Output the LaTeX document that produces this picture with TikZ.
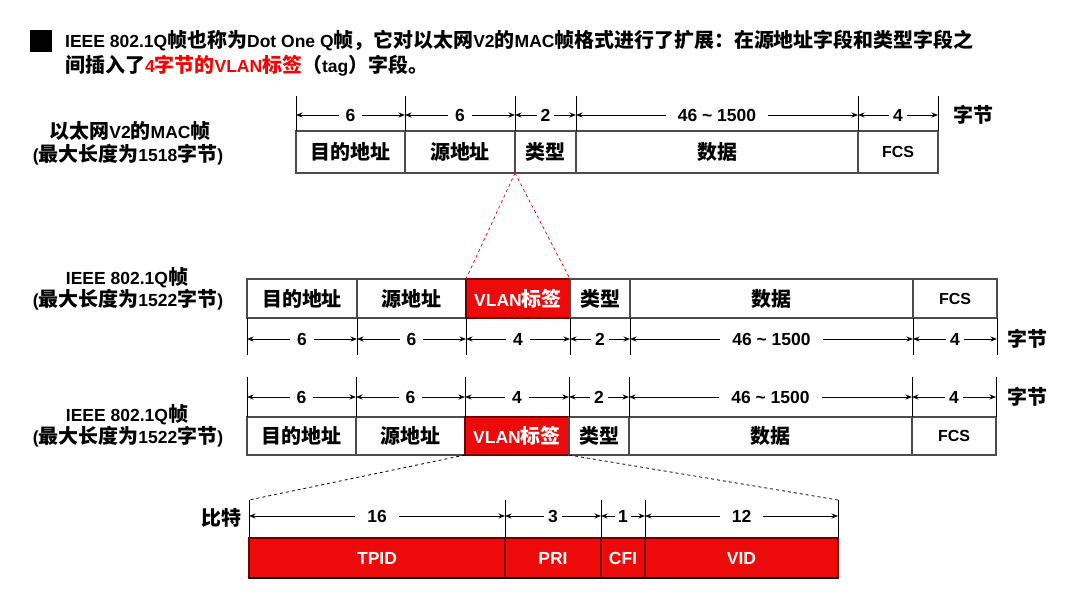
\documentclass[tikz,border=0pt]{standalone}
\usepackage{fontspec}
\setmainfont{Liberation Sans}
\newfontfamily\cjk{Noto Sans CJK SC}[Scale=1.14]
\usetikzlibrary{arrows.meta}
\newcommand\zh[1]{{\cjk #1}}
\newcommand\tld{{\char"7E}}
\definecolor{vred}{RGB}{236,10,10}
\definecolor{vdark}{RGB}{110,0,0}
\definecolor{tred}{RGB}{250,0,0}
\begin{document}
\begin{tikzpicture}[x=1pt,y=-1pt,
  font=\bfseries\fontsize{17.5}{20}\selectfont,
  cell/.style={draw=black!70, line width=1.3pt, inner sep=0pt, outer sep=0pt},
  redcell/.style={cell, fill=vred, draw=vdark, text=white},
  bitcell/.style={cell, fill=vred, draw=vdark, text=white, line width=1.1pt},
  tick/.style={line width=0.9pt},
  dim/.style={line width=0.9pt, {Stealth[length=6.5pt,width=5pt]}-{Stealth[length=6.5pt,width=5pt]}},
  lab/.style={fill=white, inner xsep=7pt, inner ysep=1pt},
  labn/.style={fill=white, inner xsep=4pt, inner ysep=1pt},
  side/.style={align=center, inner sep=0pt},
  fcs/.style={font=\bfseries\fontsize{16}{18}\selectfont}
]
\useasboundingbox (0,0) rectangle (1074,600);

% ---- title ----
\node[fill=black, minimum size=22pt, inner sep=0pt] (sq) at (41,41) {};
\node[anchor=west, inner sep=0pt] (t1) at (65,41)
  {IEEE 802.1Q\zh{帧也称为}Dot One Q\zh{帧，它对以太网}V2\zh{的}MAC\zh{帧格式进行了扩展：在源地址字段和类型字段之}};
\node[anchor=west, inner sep=0pt] (t2) at (65,66)
  {\zh{间插入了}\textcolor{tred}{4\zh{字节的}VLAN\zh{标签}}\zh{（}tag\zh{）字段。}};

% ---- frame 1: Ethernet V2 ----
\node[side] (l1a) at (130,131) {\zh{以太网}V2\zh{的}MAC\zh{帧}};
\node[side] (l1b) at (128,155) {(\zh{最大长度为}1518\zh{字节})};
\node[cell, minimum width=109pt, minimum height=42pt] (a1) at (350.5,152) {\zh{目的地址}};
\node[cell, minimum width=110pt, minimum height=42pt] (a2) at (460,152) {\zh{源地址}};
\node[cell, minimum width=61pt, minimum height=42pt] (a3) at (545.5,152) {\zh{类型}};
\node[cell, minimum width=282pt, minimum height=42pt] (a4) at (717,152) {\zh{数据}};
\node[cell, fcs, minimum width=80pt, minimum height=42pt] (a5) at (898,152) {FCS};
\foreach \n in {a1,a2,a3,a4,a5} \draw[tick] (\n.north west) -- ++(0,-35);
\draw[tick] (a5.north east) -- ++(0,-35);
\draw[dim] ([yshift=16pt]a1.north west) -- ([yshift=16pt]a1.north east) node[midway,lab] {6};
\draw[dim] ([yshift=16pt]a2.north west) -- ([yshift=16pt]a2.north east) node[midway,lab] {6};
\draw[dim] ([yshift=16pt]a3.north west) -- ([yshift=16pt]a3.north east) node[midway,labn] {2};
\draw[dim] ([yshift=16pt]a4.north west) -- ([yshift=16pt]a4.north east) node[midway,lab,inner xsep=12pt] {46 \tld\ 1500};
\draw[dim] ([yshift=16pt]a5.north west) -- ([yshift=16pt]a5.north east) node[midway,labn] {4};
\node[anchor=west, inner sep=0pt] (u1) at (953,115) {\zh{字节}};

% ---- frame 2: 802.1Q ----
\node[side] (l2a) at (127,278) {IEEE 802.1Q\zh{帧}};
\node[side] (l2b) at (128,300) {(\zh{最大长度为}1522\zh{字节})};
\node[cell, minimum width=110pt, minimum height=39pt] (b1) at (302,298.5) {\zh{目的地址}};
\node[cell, minimum width=109pt, minimum height=39pt] (b2) at (411.5,298.5) {\zh{源地址}};
\node[redcell, minimum width=104pt, minimum height=39pt] (b3) at (518,298.5) {VLAN\zh{标签}};
\node[cell, minimum width=60pt, minimum height=39pt] (b4) at (600,298.5) {\zh{类型}};
\node[cell, minimum width=283pt, minimum height=39pt] (b5) at (771.5,298.5) {\zh{数据}};
\node[cell, fcs, minimum width=84pt, minimum height=39pt] (b6) at (955,298.5) {FCS};
\foreach \n in {b1,b2,b3,b4,b5,b6} \draw[tick] (\n.south west) -- ++(0,37);
\draw[tick] (b6.south east) -- ++(0,37);
\draw[dim] ([yshift=-21pt]b1.south west) -- ([yshift=-21pt]b1.south east) node[midway,lab] {6};
\draw[dim] ([yshift=-21pt]b2.south west) -- ([yshift=-21pt]b2.south east) node[midway,lab] {6};
\draw[dim] ([yshift=-21pt]b3.south west) -- ([yshift=-21pt]b3.south east) node[midway,lab] {4};
\draw[dim] ([yshift=-21pt]b4.south west) -- ([yshift=-21pt]b4.south east) node[midway,labn] {2};
\draw[dim] ([yshift=-21pt]b5.south west) -- ([yshift=-21pt]b5.south east) node[midway,lab,inner xsep=12pt] {46 \tld\ 1500};
\draw[dim] ([yshift=-21pt]b6.south west) -- ([yshift=-21pt]b6.south east) node[midway,labn] {4};
\node[anchor=west, inner sep=0pt] (u2) at (1007,339) {\zh{字节}};
\draw[vred, dashed, line width=0.8pt] (a3.south west) -- (b3.north west);
\draw[vred, dashed, line width=0.8pt] (a3.south west) -- (b3.north east);

% ---- frame 3: 802.1Q ----
\node[side] (l3a) at (127,415) {IEEE 802.1Q\zh{帧}};
\node[side] (l3b) at (128,437) {(\zh{最大长度为}1522\zh{字节})};
\node[cell, minimum width=109pt, minimum height=38pt] (c1) at (301.5,436) {\zh{目的地址}};
\node[cell, minimum width=109pt, minimum height=38pt] (c2) at (410.5,436) {\zh{源地址}};
\node[redcell, minimum width=104pt, minimum height=38pt] (c3) at (517,436) {VLAN\zh{标签}};
\node[cell, minimum width=60pt, minimum height=38pt] (c4) at (599,436) {\zh{类型}};
\node[cell, minimum width=283pt, minimum height=38pt] (c5) at (770.5,436) {\zh{数据}};
\node[cell, fcs, minimum width=84pt, minimum height=38pt] (c6) at (954,436) {FCS};
\foreach \n in {c1,c2,c3,c4,c5,c6} \draw[tick] (\n.north west) -- ++(0,-40);
\draw[tick] (c6.north east) -- ++(0,-40);
\draw[dim] ([yshift=20pt]c1.north west) -- ([yshift=20pt]c1.north east) node[midway,lab] {6};
\draw[dim] ([yshift=20pt]c2.north west) -- ([yshift=20pt]c2.north east) node[midway,lab] {6};
\draw[dim] ([yshift=20pt]c3.north west) -- ([yshift=20pt]c3.north east) node[midway,lab] {4};
\draw[dim] ([yshift=20pt]c4.north west) -- ([yshift=20pt]c4.north east) node[midway,labn] {2};
\draw[dim] ([yshift=20pt]c5.north west) -- ([yshift=20pt]c5.north east) node[midway,lab,inner xsep=12pt] {46 \tld\ 1500};
\draw[dim] ([yshift=20pt]c6.north west) -- ([yshift=20pt]c6.north east) node[midway,labn] {4};
\node[anchor=west, inner sep=0pt] (u3) at (1007,397) {\zh{字节}};

% ---- frame 4: VLAN tag bits ----
\node[bitcell, minimum width=256pt, minimum height=40pt] (d1) at (377,558) {TPID};
\node[bitcell, minimum width=96pt, minimum height=40pt] (d2) at (553,558) {PRI};
\node[bitcell, minimum width=44pt, minimum height=40pt] (d3) at (623,558) {CFI};
\node[bitcell, minimum width=193pt, minimum height=40pt] (d4) at (741.5,558) {VID};
\draw[black, line width=1.3pt] (d1.south west) -- (d4.south east);
\foreach \n in {d1,d2,d3,d4} \draw[tick] (\n.north west) -- ++(0,-38);
\draw[tick] (d4.north east) -- ++(0,-38);
\coordinate (e1) at ([yshift=38pt]d1.north west);
\coordinate (e4) at ([yshift=38pt]d4.north east);
\draw[dim] ([yshift=22pt]d1.north west) -- ([yshift=22pt]d1.north east) node[midway,lab,inner xsep=12pt] {16};
\draw[dim] ([yshift=22pt]d2.north west) -- ([yshift=22pt]d2.north east) node[midway,labn] {3};
\draw[dim] ([yshift=22pt]d3.north west) -- ([yshift=22pt]d3.north east) node[midway,labn,inner xsep=3pt] {1};
\draw[dim] ([yshift=22pt]d4.north west) -- ([yshift=22pt]d4.north east) node[midway,lab,inner xsep=12pt] {12};
\node[anchor=east, inner sep=0pt] (u4) at (242,518) {\zh{比特}};
\draw[dashed, line width=0.8pt] (c3.south west) -- (e1);
\draw[dashed, line width=0.8pt] (c3.south east) -- (e4);
\end{tikzpicture}
\end{document}
